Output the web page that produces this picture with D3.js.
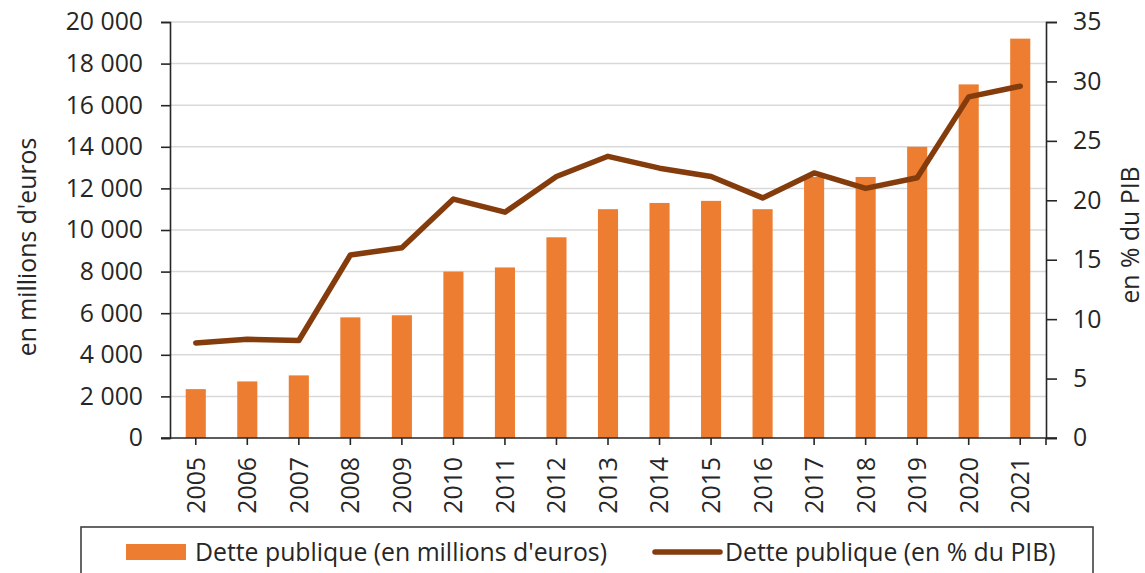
<!DOCTYPE html>
<html>
<head>
<meta charset="utf-8">
<script src="https://cdn.jsdelivr.net/npm/d3@7"></script>
<style>
  body { margin: 0; background: #fff; }
  svg text { font-family: "Open Sans", sans-serif; fill: #262626; }
</style>
</head>
<body>
<div id="chart"></div>
<script>
// donnees
var years = ["2005", "2006", "2007", "2008", "2009", "2010", "2011", "2012", "2013",
  "2014", "2015", "2016", "2017", "2018", "2019", "2020", "2021"];
var detteMillions = [2350, 2720, 3010, 5800, 5900, 8000, 8200, 9650, 11000,
  11300, 11400, 11000, 12550, 12550, 14000, 17000, 19200];
var dettePib = [8.0, 8.3, 8.2, 15.4, 16.0, 20.1, 19.0, 22.0, 23.7,
  22.7, 22.0, 20.2, 22.3, 21.0, 21.9, 28.7, 29.6];
var leftTicks = [0, 2000, 4000, 6000, 8000, 10000, 12000, 14000, 16000, 18000, 20000];
var rightTicks = [0, 5, 10, 15, 20, 25, 30, 35];
var legendLabels = ["Dette publique (en millions d'euros)", "Dette publique (en % du PIB)"];

function drawChart() {
  var W = 1145, H = 573;
  var mLeft = 170, mRight = 1046, mTop = 22, mBottom = 438;
  var fs = "24.8px";

  var svg = d3.select("#chart").append("svg")
    .attr("width", W).attr("height", H);

  svg.append("rect").attr("width", W).attr("height", H).attr("fill", "#fff");

  var x = d3.scaleBand().domain(years).range([mLeft, mRight])
    .paddingInner(0.61).paddingOuter(0.305);
  var yL = d3.scaleLinear().domain([0, 20000]).range([mBottom, mTop]);
  var yR = d3.scaleLinear().domain([0, 35]).range([mBottom, mTop]);

  var fr = d3.formatLocale({ decimal: ",", thousands: " ", grouping: [3], currency: ["", ""] });
  var fmt = fr.format(",");

  // grille
  svg.append("g").selectAll("line")
    .data(leftTicks.filter(function (d) { return d > 0; }))
    .enter().append("line")
    .attr("x1", mLeft).attr("x2", mRight)
    .attr("y1", function (d) { return yL(d); })
    .attr("y2", function (d) { return yL(d); })
    .attr("stroke", "#d9d9d9").attr("stroke-width", 1.5);

  // barres
  svg.append("g").selectAll("rect")
    .data(detteMillions)
    .enter().append("rect")
    .attr("x", function (d, i) { return x(years[i]); })
    .attr("width", x.bandwidth())
    .attr("y", function (d) { return yL(d); })
    .attr("height", function (d) { return mBottom - yL(d); })
    .attr("fill", "#ed7d31");

  // courbe
  var line = d3.line()
    .x(function (d, i) { return x(years[i]) + x.bandwidth() / 2; })
    .y(function (d) { return yR(d); });

  svg.append("path")
    .datum(dettePib)
    .attr("d", line)
    .attr("fill", "none")
    .attr("stroke", "#843c0c")
    .attr("stroke-width", 5.5)
    .attr("stroke-linejoin", "round")
    .attr("stroke-linecap", "round");

  // axe gauche
  var gL = svg.append("g")
    .attr("transform", "translate(" + mLeft + ",0)")
    .call(d3.axisLeft(yL).tickValues(leftTicks).tickSize(9).tickPadding(18).tickFormat(fmt));

  // axe droit
  var gR = svg.append("g")
    .attr("transform", "translate(" + mRight + ",0)")
    .call(d3.axisRight(yR).tickValues(rightTicks).tickSize(11).tickPadding(16));

  // axe bas
  var gB = svg.append("g")
    .attr("transform", "translate(0," + mBottom + ")")
    .call(d3.axisBottom(x).tickSize(7).tickSizeOuter(0));
  gB.select(".domain").remove();
  gB.append("line")
    .attr("x1", mLeft - 9).attr("x2", mRight + 11)
    .attr("stroke", "#262626").attr("stroke-width", 1.6);
  gB.append("line")
    .attr("x1", mRight).attr("x2", mRight).attr("y2", 7)
    .attr("stroke", "#262626").attr("stroke-width", 1.6);
  gB.selectAll(".tick text")
    .attr("transform", "rotate(-90)")
    .attr("text-anchor", "end")
    .attr("x", -19).attr("y", 0).attr("dy", "0.36em");

  [gL, gR, gB].forEach(function (g) {
    g.selectAll(".domain, .tick line").attr("stroke", "#262626").attr("stroke-width", 1.6);
    g.selectAll("text").style("font-size", fs).style("font-family", "Open Sans").attr("fill", "#262626");
  });

  // titres des axes
  svg.append("text")
    .attr("transform", "translate(27,247) rotate(-90)")
    .attr("text-anchor", "middle").attr("dy", "0.35em")
    .style("font-size", fs)
    .text("en millions d'euros");

  svg.append("text")
    .attr("transform", "translate(1130,235) rotate(-90)")
    .attr("text-anchor", "middle").attr("dy", "0.35em")
    .style("font-size", fs)
    .text("en % du PIB");

  // legende
  var leg = svg.append("g");
  leg.append("rect")
    .attr("x", 81).attr("y", 527).attr("width", 1012).attr("height", 70)
    .attr("fill", "none").attr("stroke", "#404040").attr("stroke-width", 1.6);
  leg.append("rect")
    .attr("x", 126).attr("y", 544).attr("width", 60).attr("height", 16)
    .attr("fill", "#ed7d31");
  leg.append("text")
    .attr("x", 195).attr("y", 552).attr("dy", "0.35em")
    .style("font-size", fs)
    .text(legendLabels[0]);
  leg.append("line")
    .attr("x1", 655).attr("x2", 720).attr("y1", 552).attr("y2", 552)
    .attr("stroke", "#843c0c").attr("stroke-width", 5.5).attr("stroke-linecap", "round");
  leg.append("text")
    .attr("x", 725).attr("y", 552).attr("dy", "0.35em")
    .style("font-size", fs)
    .text(legendLabels[1]);
}

drawChart();
</script>
</body>
</html>
